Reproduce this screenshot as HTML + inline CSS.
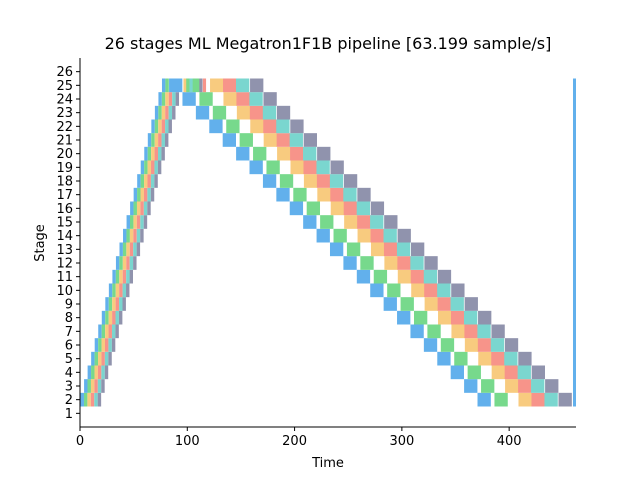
<!DOCTYPE html>
<html><head><meta charset="utf-8"><style>
html,body{margin:0;padding:0;background:#fff;}
svg{display:block;font-family:"DejaVu Sans","Liberation Sans",sans-serif;}
</style></head><body>
<svg id="chart" width="640" height="480">
<rect width="640" height="480" fill="#fff"/>
<text x="328" y="49" font-size="16" text-anchor="middle">26 stages ML Megatron1F1B pipeline [63.199 sample/s]</text>
<g id="marks"></g>
<g id="axes"></g>
<text x="328" y="467" font-size="13" text-anchor="middle">Time</text>
<text transform="translate(44,243) rotate(-90)" font-size="13" text-anchor="middle">Stage</text>
</svg>
<script>
// ---- data ----
const colors = ["#62b0ec","#77d98c","#f8cb7f","#f7948a","#7ad6cf","#9093ad"];
const stages = [2,3,4,5,6,7,8,9,10,11,12,13,14,15,16,17,18,19,20,21,22,23,24];
const fwdStart = [0.5,3.8,7.1,10.4,13.7,17.0,20.3,23.6,26.9,30.2,33.5,36.8,40.1,43.4,46.7,50.0,53.3,56.6,59.9,63.2,66.5,69.8,73.1];
const fwdOffsets = [0,3.2,6.4,9.6,12.8,16.0];
const fwdDur = 3.2;
const bwdStart = [370.5,358.0,345.5,333.0,320.5,308.0,295.5,283.0,270.5,258.0,245.5,233.0,220.5,208.0,195.5,183.0,170.5,158.0,145.5,133.0,120.5,108.0,95.5];
const bwdOffsets = [0,15.8,38.2,50.3,62.4,75.5];
const bwdDur = 12.4;
// last stage (25) interleaved schedule
const lastStage = 25;
const lastStarts = [76.4,79.6,83.0,96.4,99.0,114.5,102.0,111.2,121.2,133.3,145.4,158.5];
const lastDurs =   [3.2,3.2,12.4,3.0,12.4,3.0,3.0,3.0,12.4,12.4,12.4,12.4];
const lastColors = [0,1,0,2,1,3,4,5,2,3,4,5];
const syncX = 459.5, syncW = 2.8, syncLo = 1.5, syncHi = 25.5;
const xTicks = [0,100,200,300,400];
const yTicks = [1,2,3,4,5,6,7,8,9,10,11,12,13,14,15,16,17,18,19,20,21,22,23,24,25,26];

// ---- axes ----
const X0=80, X1=576, Y0=427, Y1=58, XMAX=462.3, YMIN=0, YMAX=27;
const sx = v => X0 + v/XMAX*(X1-X0);
const sy = v => Y0 - (v-YMIN)/(YMAX-YMIN)*(Y0-Y1);
const NS="http://www.w3.org/2000/svg";
const marks=document.getElementById('marks'), axes=document.getElementById('axes');
function mk(tag, attrs, parent){const e=document.createElementNS(NS,tag);for(const k in attrs)e.setAttribute(k,attrs[k]);parent.appendChild(e);return e;}
function bar(t,d,s,c,parent,name){
  const r=mk('rect',{x:sx(t),y:sy(s+0.5),width:sx(t+d)-sx(t),height:sy(s-0.5)-sy(s+0.5),fill:c},parent);
  
  
}
stages.forEach((s,i)=>{
  fwdOffsets.forEach((o,k)=>bar(fwdStart[i]+o,fwdDur,s,colors[k],marks,'forward-block'));
  bwdOffsets.forEach((o,k)=>bar(bwdStart[i]+o,bwdDur,s,colors[k],marks,'backward-block'));
});
lastStarts.forEach((t,k)=>bar(t,lastDurs[k],lastStage,colors[lastColors[k]],marks,'last-stage-block'));
const sync=mk('rect',{x:sx(syncX),y:sy(syncHi),width:sx(syncX+syncW)-sx(syncX),height:sy(syncLo)-sy(syncHi),fill:"#62b0ec"},marks);



const ls=mk('line',{x1:X0,y1:Y1,x2:X0,y2:Y0+0.5,stroke:"#000","stroke-width":1},axes);


const bs=mk('line',{x1:X0-0.5,y1:Y0,x2:X1,y2:Y0,stroke:"#000","stroke-width":1},axes);


xTicks.forEach(v=>{
  const tk=mk('line',{x1:sx(v),y1:Y0,x2:sx(v),y2:Y0+4,stroke:"#000"},axes);
  
  
  const t=mk('text',{x:sx(v),y:Y0+18,"font-size":13,"text-anchor":"middle"},axes);
  t.textContent=v;
  
  
});
yTicks.forEach(v=>{
  const tk=mk('line',{x1:X0-4,y1:sy(v),x2:X0,y2:sy(v),stroke:"#000"},axes);
  
  
  const t=mk('text',{x:X0-7,y:sy(v)+4.5,"font-size":13,"text-anchor":"end"},axes);
  t.textContent=v;
  
  
});
</script>
</body></html>
